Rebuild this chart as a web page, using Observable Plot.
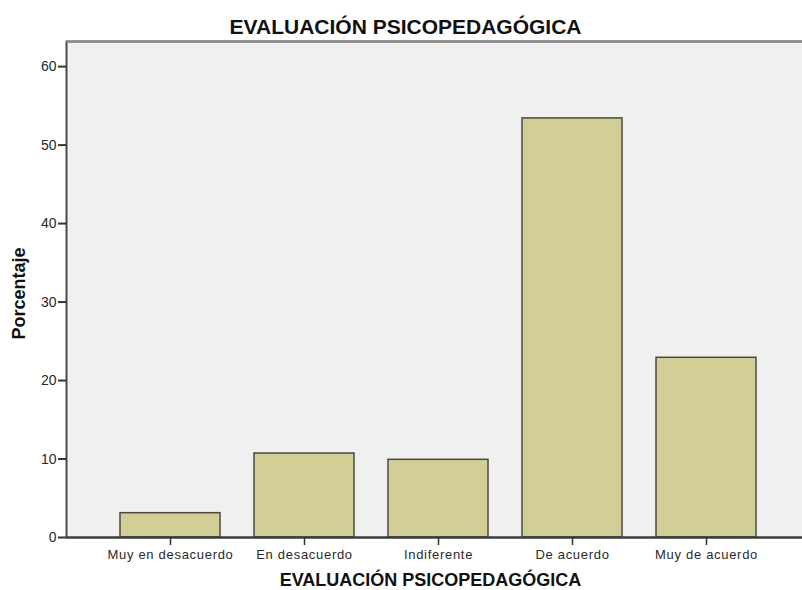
<!DOCTYPE html>
<html>
<head>
<meta charset="utf-8">
<script src="https://cdn.jsdelivr.net/npm/d3@7"></script>
<script src="https://cdn.jsdelivr.net/npm/@observablehq/plot@0.6"></script>
<style>
  html, body { margin: 0; padding: 0; background: #ffffff; }
  #chart svg { display: block; overflow: visible; }
  #chart svg g[aria-label="x-axis tick label"] text { letter-spacing: 0.7px; }
</style>
</head>
<body>
<div id="chart"></div>
<script>
const categories = ["Muy en desacuerdo", "En desacuerdo", "Indiferente", "De acuerdo", "Muy de acuerdo"];
const percentages = [3.1, 10.7, 9.9, 53.4, 22.9];
const yTicks = [0, 10, 20, 30, 40, 50, 60];
const yMax = 63.2;
const titleText = "EVALUACIÓN PSICOPEDAGÓGICA";
const xLabelText = "EVALUACIÓN PSICOPEDAGÓGICA";
const yLabelText = "Porcentaje";

const data = categories.map((c, i) => ({category: c, value: percentages[i]}));
const font = "'Liberation Sans', Arial, Helvetica, sans-serif";

const chart = Plot.plot({
  width: 802,
  height: 590,
  marginLeft: 66,
  marginRight: 0,
  marginTop: 41,
  marginBottom: 53,
  style: {fontFamily: font, background: "#ffffff", color: "#222"},
  x: {domain: categories, range: [103, 773], paddingInner: 0.254, paddingOuter: 0.127, label: null},
  y: {domain: [0, yMax], label: null},
  marks: [
    Plot.frame({fill: "#f0f0f0", stroke: null, insetRight: -4}),
    Plot.barY(data, {x: "category", y: "value", fill: "#d3ce97", stroke: "#4a4a40", strokeWidth: 1.5}),
    Plot.frame({stroke: "#4a4a4a", strokeWidth: 2, insetRight: -4, fill: "none"}),
    Plot.ruleY([yMax], {stroke: "#8a8a8a", strokeWidth: 2}),
    Plot.ruleY([0], {stroke: "#3a3a3a", strokeWidth: 2}),
    Plot.axisY({ticks: yTicks, tickSize: 8, tickPadding: 2, fontSize: 14, stroke: "#333", strokeWidth: 2, label: null, fill: "#2a2a2a"}),
    Plot.axisX({tickSize: 8, tickPadding: 4, fontSize: 13, stroke: "#333", strokeWidth: 1.5, label: null, fill: "#2a2a2a"}),
    Plot.text([titleText], {frameAnchor: "top", dx: -29, dy: -14.5, lineAnchor: "middle", fontSize: 21, fontWeight: "bold", fill: "#111"}),
    Plot.text([xLabelText], {frameAnchor: "bottom", dx: -4, dy: 43, lineAnchor: "middle", fontSize: 18, fontWeight: "bold", fill: "#111"}),
    Plot.text([yLabelText], {frameAnchor: "left", textAnchor: "middle", dx: -47, dy: 4, rotate: -90, lineAnchor: "middle", fontSize: 18, fontWeight: "bold", fill: "#111", style: {letterSpacing: "0.5px"}})
  ]
});
document.getElementById("chart").appendChild(chart);
</script>
</body>
</html>
